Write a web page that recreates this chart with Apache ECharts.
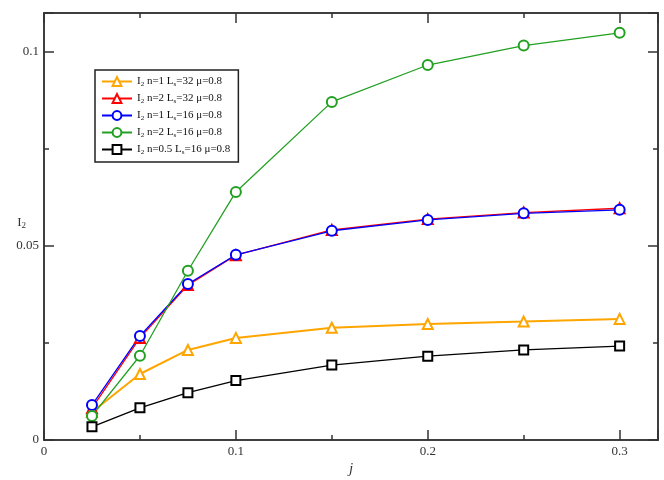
<!DOCTYPE html>
<html><head><meta charset="utf-8">
<script src="https://cdn.jsdelivr.net/npm/echarts@6/dist/echarts.min.js"></script>
<style>html,body{margin:0;padding:0;background:#fff}#c{width:664px;height:480px}</style>
</head><body><div id="c"></div>
<script>
const xVals = [0.025, 0.05, 0.075, 0.1, 0.15, 0.2, 0.25, 0.3];
const n1Ls32 = [0.0072, 0.0170, 0.0232, 0.0263, 0.0289, 0.0299, 0.0305, 0.0312];
const n2Ls32 = [0.0082, 0.0263, 0.0399, 0.0476, 0.0541, 0.0569, 0.0586, 0.0597];
const n1Ls16 = [0.0090, 0.0268, 0.0402, 0.0477, 0.0539, 0.0567, 0.0584, 0.0593];
const n2Ls16 = [0.0062, 0.0217, 0.0436, 0.0639, 0.0871, 0.0966, 0.1016, 0.1049];
const n05Ls16 = [0.0034, 0.0083, 0.0122, 0.0153, 0.0193, 0.0216, 0.0232, 0.0242];
const xTickLabels = ['0', '0.1', '0.2', '0.3'];
const yTickLabels = ['0', '0.05', '0.1'];
const seriesNames = [
  '{a|I}{s|2}{a| n=1 L}{s|s}{a|=32 μ=0.8}',
  '{a|I}{s|2}{a| n=2 L}{s|s}{a|=32 μ=0.8}',
  '{a|I}{s|2}{a| n=1 L}{s|s}{a|=16 μ=0.8}',
  '{a|I}{s|2}{a| n=2 L}{s|s}{a|=16 μ=0.8}',
  '{a|I}{s|2}{a| n=0.5 L}{s|s}{a|=16 μ=0.8}'
];
const seriesValues = [n1Ls32, n2Ls32, n1Ls16, n2Ls16, n05Ls16];
const seriesColors = ['#ffa500', '#ff0000', '#0000ff', '#22a022', '#000000'];
const seriesSymbols = ['emptyTriangle', 'emptyTriangle', 'emptyCircle', 'emptyCircle', 'emptyRect'];

const FONT = 'Liberation Serif';
const AX = '#333';
function fmt(list) {
  return function (v) {
    for (const t of list) if (Math.abs(parseFloat(t) - v) < 1e-9) return t;
    return '';
  };
}
function xAxisDef(pos, interval, len, labels) {
  return {
    type: 'value', position: pos, min: 0, max: 0.32, interval: interval,
    axisLine: { show: true, onZero: false, lineStyle: { color: AX, width: 1.5 } },
    axisTick: { show: true, inside: true, length: len, lineStyle: { color: AX, width: 1.5 } },
    axisLabel: labels ? { show: true, formatter: fmt(xTickLabels), fontFamily: FONT, fontSize: 13, color: AX, margin: 5 } : { show: false },
    splitLine: { show: false }
  };
}
function yAxisDef(pos, interval, len, labels) {
  return {
    type: 'value', position: pos, min: 0, max: 0.11, interval: interval,
    axisLine: { show: true, onZero: false, lineStyle: { color: AX, width: 1.5 } },
    axisTick: { show: true, inside: true, length: len, lineStyle: { color: AX, width: 1.5 } },
    axisLabel: labels ? { show: true, formatter: fmt(yTickLabels), fontFamily: FONT, fontSize: 13, color: AX, margin: 5 } : { show: false },
    splitLine: { show: false }
  };
}
const xAxes = [
  Object.assign(xAxisDef('bottom', 0.1, 10, true), { name: 'j', nameLocation: 'middle', nameGap: 22, nameMoveOverlap: false, nameTextStyle: { fontFamily: FONT, fontStyle: 'italic', fontSize: 15, color: AX } }),
  xAxisDef('bottom', 0.05, 5, false),
  xAxisDef('top', 0.1, 10, false),
  xAxisDef('top', 0.05, 5, false)
];
const yAxes = [
  Object.assign(yAxisDef('left', 0.05, 10, true), {
    name: '{i|I}{s|2}', nameLocation: 'middle', nameRotate: 0, nameGap: 18, nameMoveOverlap: false,
    nameTextStyle: { fontFamily: FONT, color: AX, padding: [0, 0, 8, 0], rich: { i: { fontFamily: FONT, fontSize: 13, color: AX }, s: { fontFamily: FONT, fontSize: 9, color: AX, padding: [7, 0, 0, 0] } } }
  }),
  yAxisDef('left', 0.025, 5, false),
  yAxisDef('right', 0.05, 10, false),
  yAxisDef('right', 0.025, 5, false)
];

const series = seriesNames.map((name, k) => ({
  name: name,
  type: 'line',
  xAxisIndex: 0, yAxisIndex: 0,
  data: xVals.map((x, i) => [x, seriesValues[k][i]]),
  symbol: seriesSymbols[k],
  symbolSize: k === 4 ? 9 : 10,
  color: seriesColors[k],
  lineStyle: { color: seriesColors[k], width: k === 0 ? 2 : 1.3 },
  itemStyle: { color: seriesColors[k], borderWidth: 1 },
  animation: false
}));

const chart = echarts.init(document.getElementById('c'));
chart.setOption({
  backgroundColor: '#fff',
  animation: false,
  grid: { left: 44, top: 13, right: 6, bottom: 40, containLabel: false, outerBoundsMode: 'none' },
  xAxis: xAxes,
  yAxis: yAxes,
  legend: {
    orient: 'vertical', left: 95, top: 70,
    padding: [6, 8, 6, 6],
    borderColor: '#222', borderWidth: 1.5,
    itemWidth: 30, itemHeight: 11, itemGap: 5,
    textStyle: {
      fontFamily: FONT, fontSize: 11, color: '#111',
      rich: {
        a: { fontFamily: FONT, fontSize: 11, color: '#111' },
        s: { fontFamily: FONT, fontSize: 7, color: '#111', padding: [6, 0, 0, 0] }
      }
    },
    data: seriesNames
  },
  series: series
});
</script></body></html>
